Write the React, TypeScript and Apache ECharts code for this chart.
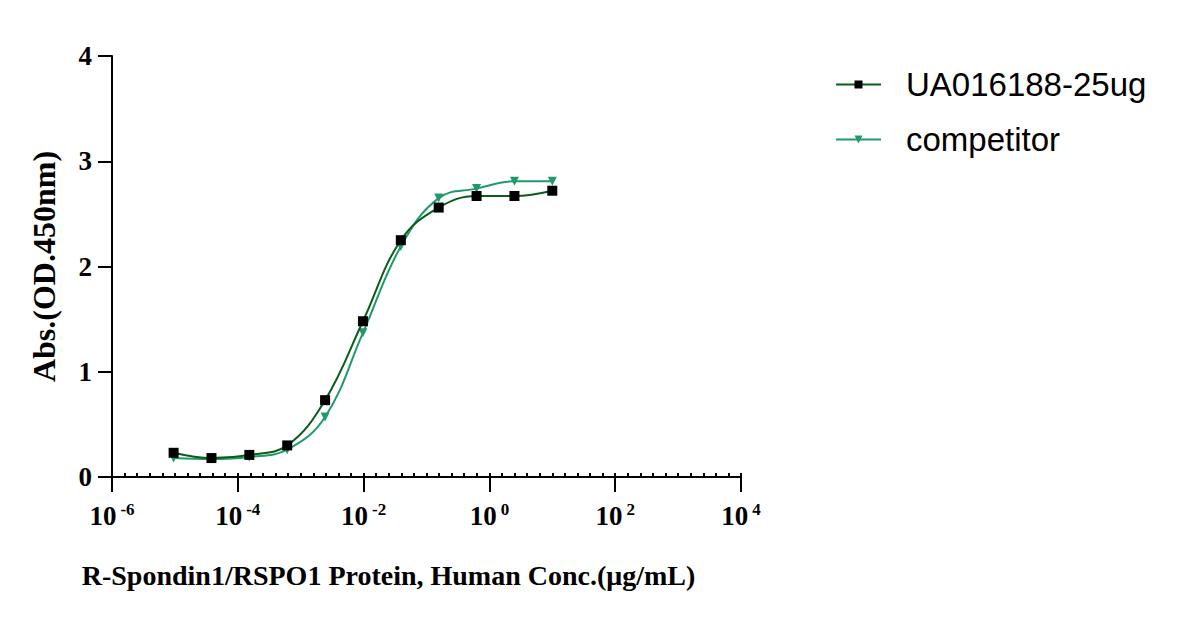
import React, { useEffect, useRef } from 'react'
import * as echarts from 'echarts'

// 4-fold dilution series, µg/mL
const concentrations = [
    10, 2.5, 0.625, 0.15625, 0.0390625, 0.009765625, 0.00244140625, 0.0006103515625,
    0.000152587890625, 0.00003814697265625, 0.0000095367431640625,
]
const ua016188 = [2.72, 2.67, 2.67, 2.56, 2.25, 1.48, 0.73, 0.3, 0.21, 0.18, 0.23]
const competitor = [2.81, 2.81, 2.74, 2.65, 2.19, 1.37, 0.57, 0.26, 0.19, 0.17, 0.18]

const seriesNames = ['UA016188-25ug', 'competitor']
const yTicks = [0, 1, 2, 3, 4]
// x range in decades
const xDecades = [-6, 4]

const serif = 'Liberation Serif'

const toPairs = (ys: number[]) => concentrations.map((c, i) => [c, ys[i]])

const GRID = { left: 112, right: 445, top: 56, bottom: 142 }
const plotHeight = 619 - GRID.top - GRID.bottom

const App: React.FC = () => {
    const chartRef = useRef<HTMLDivElement | null>(null)

    useEffect(() => {
        if (!chartRef.current) return
        const chart = echarts.init(chartRef.current, undefined, { renderer: 'svg' })

        const options: any = {
            animation: false,
            backgroundColor: '#fff',
            grid: GRID,
            legend: {
                left: 830,
                top: 63,
                orient: 'vertical',
                itemWidth: 45,
                itemHeight: 10,
                itemGap: 22,
                textStyle: {
                    fontFamily: 'Liberation Sans',
                    fontSize: 33,
                    lineHeight: 33,
                    color: '#000',
                    padding: [0, 0, 0, 20],
                },
                data: seriesNames,
            },
            xAxis: [
                {
                    type: 'log',
                    logBase: 10,
                    min: Math.pow(10, xDecades[0]),
                    max: Math.pow(10, xDecades[1]),
                    interval: 2,
                    position: 'bottom',
                    name: 'R-Spondin1/RSPO1 Protein, Human Conc.(μg/mL)',
                    nameLocation: 'middle',
                    nameGap: 84,
                    nameTextStyle: {
                        fontFamily: serif,
                        fontWeight: 'bold',
                        fontSize: 28,
                        color: '#000',
                        padding: [0, 76, 0, 0],
                    },
                    axisLine: { show: true, onZero: false, lineStyle: { color: '#000', width: 2 } },
                    axisTick: { show: true, length: 15, inside: false, lineStyle: { width: 2 } },
                    minorTick: { show: false },
                    splitLine: { show: false },
                    axisLabel: {
                        margin: 24,
                        color: '#000',
                        formatter: (v: number) => {
                            const e = Math.round(Math.log10(v))
                            return `{b|10}{s|${e}}`
                        },
                        rich: {
                            b: { fontFamily: serif, fontWeight: 'bold', fontSize: 27, color: '#000' },
                            s: {
                                fontFamily: serif,
                                fontWeight: 'bold',
                                fontSize: 17,
                                color: '#000',
                                padding: [0, 0, 12, 4],
                            },
                        },
                    },
                    z: 3,
                },
                {
                    // minor ticks, evenly spaced in decades, moved down onto the bottom axis
                    type: 'value',
                    gridIndex: 0,
                    min: xDecades[0],
                    max: xDecades[1],
                    interval: 0.2,
                    position: 'top',
                    offset: -plotHeight,
                    axisLine: { show: true, onZero: false, lineStyle: { color: '#000', width: 2 } },
                    axisTick: { show: true, inside: false, length: 4, lineStyle: { color: '#000', width: 2 } },
                    axisLabel: { show: false },
                    splitLine: { show: false },
                    z: 4,
                },
            ],
            yAxis: {
                type: 'value',
                min: yTicks[0],
                max: yTicks[yTicks.length - 1],
                interval: 1,
                name: 'Abs.(OD.450nm)',
                nameLocation: 'middle',
                nameGap: 52,
                nameTextStyle: {
                    fontFamily: serif,
                    fontWeight: 'bold',
                    fontSize: 32,
                    color: '#000',
                },
                axisLine: { show: true, onZero: false, lineStyle: { color: '#000', width: 2 } },
                axisTick: { show: true, length: 14, lineStyle: { width: 2 } },
                splitLine: { show: false },
                axisLabel: {
                    margin: 20,
                    fontFamily: serif,
                    fontWeight: 'bold',
                    fontSize: 27,
                    color: '#000',
                },
            },
            series: [
                {
                    name: seriesNames[0],
                    type: 'line',
                    xAxisIndex: 0,
                    data: toPairs(ua016188),
                    smooth: 0.4,
                    symbol: 'rect',
                    symbolSize: 10,
                    itemStyle: { color: '#000' },
                    lineStyle: { color: '#0a5c17', width: 2 },
                    z: 3,
                },
                {
                    name: seriesNames[1],
                    type: 'line',
                    xAxisIndex: 0,
                    data: toPairs(competitor),
                    smooth: 0.4,
                    symbol: 'triangle',
                    symbolRotate: 180,
                    symbolSize: 9,
                    itemStyle: { color: '#1f9a6b' },
                    lineStyle: { color: '#1f9a6b', width: 2 },
                    z: 2,
                },
            ],
        }

        chart.setOption(options)

        return () => {
            chart.dispose()
        }
    }, [])

    return (
        <div
            ref={chartRef}
            style={{ position: 'fixed', left: 0, top: 0, width: '1186px', height: '619px' }}
        />
    )
}

export default App
